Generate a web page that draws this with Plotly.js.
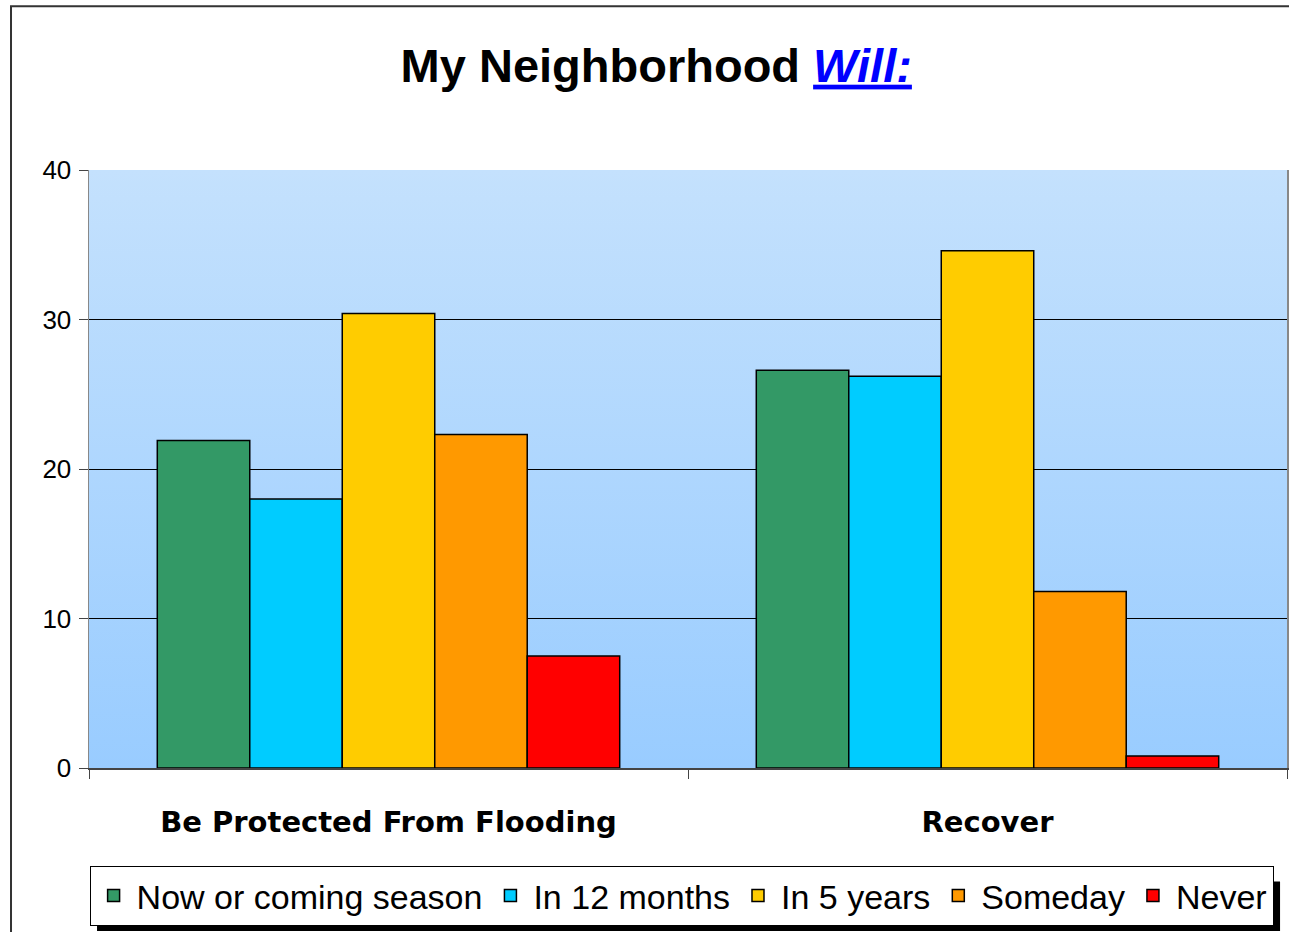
<!DOCTYPE html>
<html><head><meta charset="utf-8">
<script src="https://cdn.plot.ly/plotly-3.0.1.min.js"></script>
<style>body{margin:0;background:#fff}#chart{width:1289px;height:932px}</style>
</head><body><div id="chart"></div>
<script>
const categories = ["Be Protected From Flooding", "Recover"];
const seriesNames = ["Now or coming season", "In 12 months", "In 5 years", "Someday", "Never"];
const nowValues = [21.9, 26.6];
const months12Values = [18.0, 26.2];
const years5Values = [30.4, 34.6];
const somedayValues = [22.3, 11.8];
const neverValues = [7.5, 0.8];
const yTicks = [0, 10, 20, 30, 40];
const colors = ["#339966", "#00CCFF", "#FFCC00", "#FF9900", "#FF0000"];

const allValues = [nowValues, months12Values, years5Values, somedayValues, neverValues];
const data = allValues.map((vals, i) => ({
  type: "bar", x: categories, y: vals, name: seriesNames[i],
  marker: {color: colors[i], line: {color: "#000", width: 1.5}},
  hoverinfo: "none"
}));

const grad = 'data:image/svg+xml;utf8,' + encodeURIComponent(
 '<svg xmlns="http://www.w3.org/2000/svg" width="100" height="100" preserveAspectRatio="none"><defs><linearGradient id="g" x1="0" y1="0" x2="0" y2="1"><stop offset="0" stop-color="#C4E1FD"/><stop offset="1" stop-color="#99CCFF"/></linearGradient></defs><rect width="100" height="100" fill="url(#g)"/></svg>');

const layout = {
  width: 1289, height: 932,
  margin: {l: 89, r: 2, t: 170, b: 164},
  paper_bgcolor: "#fff", plot_bgcolor: "rgba(0,0,0,0)",
  font: {family: "Liberation Sans, Arial, sans-serif", color: "#000"},
  title: {
    text: '<b>My Neighborhood <span style="color:#0000FF"><i><u>Will:</u></i></span></b>',
    font: {size: 47, family: "Liberation Sans, Arial, sans-serif"},
    x: 0.4735, xref: "paper", xanchor: "center", y: 0.93, yanchor: "middle"
  },
  barmode: "group", bargap: 0.228, bargroupgap: 0,
  xaxis: {
    type: "category", tickson: "boundaries", ticks: "outside", ticklen: 9, tickcolor: "#444",
    showline: true, linecolor: "#444", linewidth: 1.5, mirror: false,
    tickfont: {size: 29, family: "DejaVu Sans, Liberation Sans, sans-serif"},
    tickprefix: "<b>", ticksuffix: "</b>", ticklabelstandoff: 28,
    showgrid: false, fixedrange: true
  },
  yaxis: {
    range: [0, 40], tickvals: yTicks, ticks: "outside", ticklen: 9, tickcolor: "#444",
    showline: true, linecolor: "#888", linewidth: 1.5, mirror: true,
    showgrid: true, gridcolor: "#000", gridwidth: 1, zeroline: false,
    tickfont: {size: 26}, ticklabelstandoff: 2, fixedrange: true
  },
  showlegend: true,
  legend: {
    orientation: "h", x: 0.0005, xanchor: "left", y: -0.1639, yanchor: "top",
    bgcolor: "#fff", bordercolor: "#000", borderwidth: 1,
    font: {size: 34, family: "Liberation Sans, sans-serif"},
    itemwidth: 36, tracegroupgap: 0, itemclick: false, itemdoubleclick: false
  },
  images: [{source: grad, xref: "paper", yref: "paper", x: 0, y: 1, sizex: 1, sizey: 1,
            xanchor: "left", yanchor: "top", sizing: "stretch", layer: "below"}],
  shapes: [
    {type: "rect", xref: "paper", yref: "paper", x0: -0.0651, x1: 1.05, y0: -0.4, y1: 1.274,
     line: {color: "#333", width: 2}, fillcolor: "rgba(0,0,0,0)", layer: "below"},
    {type: "rect", xref: "paper", yref: "paper", x0: 0.0067, x1: 0.9942, y0: -0.2726, y1: -0.19,
     line: {width: 0}, fillcolor: "#000", layer: "below"}
  ]
};
Plotly.newPlot("chart", data, layout, {displayModeBar: false, staticPlot: true});
</script></body></html>
